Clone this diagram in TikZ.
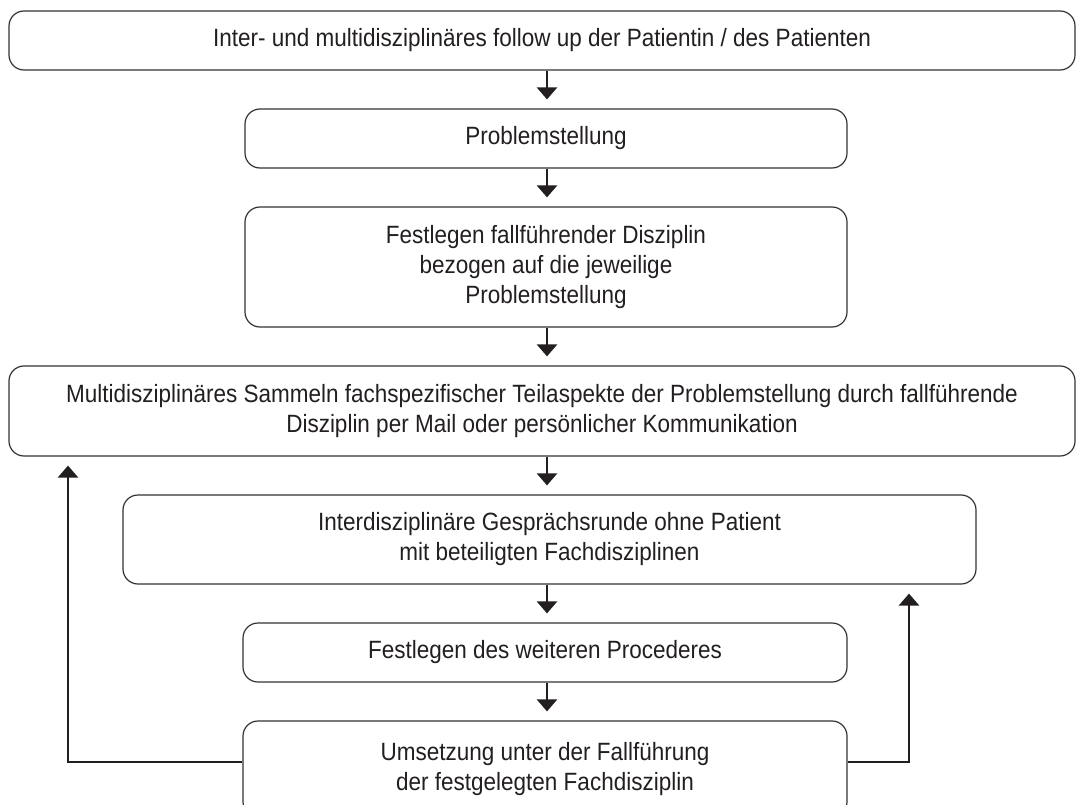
\documentclass[tikz,border=0pt]{standalone}
\usepackage{fontspec}
\setmainfont{Liberation Sans}[FakeStretch=0.9]
\usetikzlibrary{arrows.meta}
\definecolor{ink}{HTML}{231F20}
\definecolor{edge}{HTML}{333333}
\begin{document}
\begin{tikzpicture}[x=1pt,y=-1pt,
  flowbox/.style={draw=edge, line width=1.2pt, rounded corners=15pt, inner sep=0pt,
    align=center, text=ink, font=\fontsize{25}{30}\selectfont},
  flowarrow/.style={draw=ink, line width=2.6pt, -{Triangle[width=20pt,length=12pt]}, shorten >=9pt}
]
\useasboundingbox (0,0) rectangle (1076,805);
\fill[white] (0,0) rectangle (1076,805);

\node[flowbox, minimum width=1066pt, minimum height=59pt] (b1) at (542,40.5)
  {Inter- und multidisziplinäres follow up der Patientin / des Patienten};
\node[flowbox, minimum width=602pt, minimum height=59pt] (b2) at (546,138.5)
  {Problemstellung};
\node[flowbox, minimum width=602pt, minimum height=120pt] (b3) at (546,267)
  {Festlegen fallführender Disziplin\\bezogen auf die jeweilige\\Problemstellung};
\node[flowbox, minimum width=1066pt, minimum height=90pt] (b4) at (542,411)
  {Multidisziplinäres Sammeln fachspezifischer Teilaspekte der Problemstellung durch fallführende\\Disziplin per Mail oder persönlicher Kommunikation};
\node[flowbox, minimum width=853pt, minimum height=89pt] (b5) at (549.5,539.5)
  {Interdisziplinäre Gesprächsrunde ohne Patient\\mit beteiligten Fachdisziplinen};
\node[flowbox, minimum width=604pt, minimum height=59pt] (b6) at (545,652.5)
  {Festlegen des weiteren Procederes};
\node[flowbox, minimum width=604pt, minimum height=96pt] (b7) at (545,769)
  {Umsetzung unter der Fallführung\\der festgelegten Fachdisziplin};

\coordinate (col) at (547,0);
\coordinate (L) at (68,762);
\coordinate (R) at (909,762);

\draw[flowarrow] (col |- b1.south) -- (col |- b2.north);
\draw[flowarrow] (col |- b2.south) -- (col |- b3.north);
\draw[flowarrow] (col |- b3.south) -- (col |- b4.north);
\draw[flowarrow] (col |- b4.south) -- (col |- b5.north);
\draw[flowarrow] (col |- b5.south) -- (col |- b6.north);
\draw[flowarrow] (col |- b6.south) -- (col |- b7.north);

\draw[flowarrow] (b7.west |- L) -- (L) -- (L |- b4.south);
\draw[flowarrow] (b7.east |- R) -- (R) -- (R |- b5.south);
\end{tikzpicture}
\end{document}
